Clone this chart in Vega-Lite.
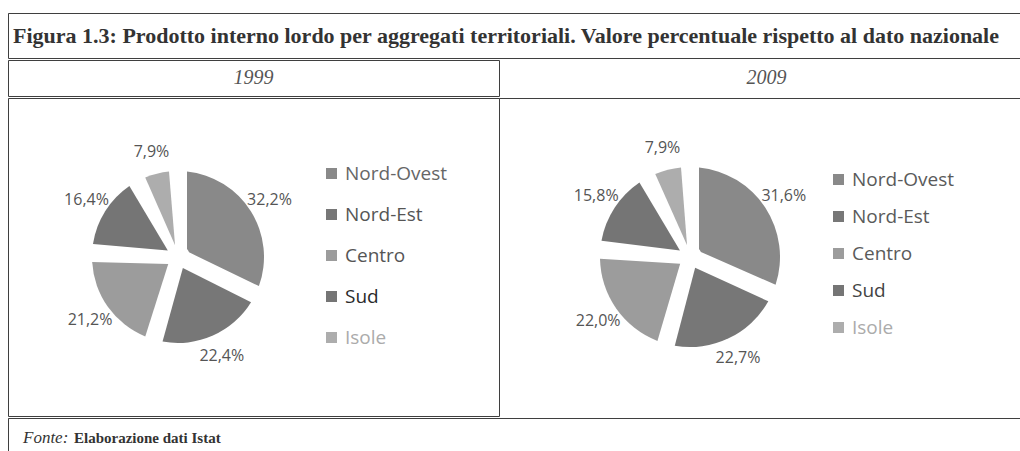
{
  "$schema": "https://vega.github.io/schema/vega-lite/v6.json",
  "padding": {"left": 7, "top": 12, "right": 0, "bottom": 0},
  "spacing": 0,
  "background": "white",
  "config": {
    "view": {"stroke": null},
    "locale": {"number": {"decimal": ",", "thousands": ".", "grouping": [3], "currency": ["", "%"]}}
  },
  "datasets": {
    "d1999": [
      {"regione": "Nord-Ovest", "quota": 32.2, "ordine": 1},
      {"regione": "Nord-Est", "quota": 22.4, "ordine": 2},
      {"regione": "Centro", "quota": 21.2, "ordine": 3},
      {"regione": "Sud", "quota": 16.4, "ordine": 4},
      {"regione": "Isole", "quota": 7.9, "ordine": 5}
    ],
    "d2009": [
      {"regione": "Nord-Ovest", "quota": 31.6, "ordine": 1},
      {"regione": "Nord-Est", "quota": 22.7, "ordine": 2},
      {"regione": "Centro", "quota": 22.0, "ordine": 3},
      {"regione": "Sud", "quota": 15.8, "ordine": 4},
      {"regione": "Isole", "quota": 7.9, "ordine": 5}
    ]
  },
  "vconcat": [
    {
      "width": 1012,
      "height": 45,
      "view": {"stroke": "#3f3f3f", "strokeWidth": 1, "strokeDash": [1012, 45, 3000]},
      "data": {"values": [{"testo": "Figura 1.3: Prodotto interno lordo per aggregati territoriali. Valore percentuale rispetto al dato nazionale"}]},
      "mark": {"type": "text", "align": "left", "baseline": "middle", "x": 5, "font": "Liberation Serif", "fontWeight": "bold", "fontSize": 22, "color": "#333333"},
      "encoding": {"text": {"field": "testo", "type": "nominal"}}
    },
    {
      "hconcat": [
        {
          "width": 491,
          "height": 36,
          "view": {"stroke": "#3f3f3f", "strokeWidth": 1},
          "data": {"values": [{"anno": "1999"}]},
          "mark": {"type": "text", "baseline": "middle", "font": "Liberation Serif", "fontStyle": "italic", "fontSize": 20, "color": "#555555"},
          "encoding": {"text": {"field": "anno", "type": "nominal"}}
        },
        {
          "width": 521,
          "height": 36,
          "view": {"stroke": null},
          "data": {"values": [{"anno": "2009"}]},
          "mark": {"type": "text", "baseline": "middle", "dx": 7, "font": "Liberation Serif", "fontStyle": "italic", "fontSize": 20, "color": "#555555"},
          "encoding": {"text": {"field": "anno", "type": "nominal"}}
        }
      ],
      "spacing": 0,
      "bounds": "flush"
    },
    {
      "hconcat": [
        {
          "width": 491,
          "height": 318,
          "view": {"stroke": "#3f3f3f", "strokeWidth": 1},
          "data": {"name": "d1999"},
          "encoding": {
            "theta": {"field": "quota", "type": "quantitative", "stack": true},
            "order": {"field": "ordine", "type": "quantitative"}
          },
          "layer": [
            {
              "mark": {"type": "arc", "x": 170, "y": 159, "outerRadius": 86, "innerRadius": 12, "padAngle": 0.208},
              "encoding": {
                "color": {
                  "field": "regione", "type": "nominal",
                  "scale": {"domain": ["Nord-Ovest", "Nord-Est", "Centro", "Sud", "Isole"], "range": ["#898989", "#777777", "#9c9c9c", "#757575", "#adadad"]},
                  "legend": {
                    "orient": "none", "legendX": 314, "legendY": 66, "title": null, "padding": 0,
                    "symbolType": "square", "symbolSize": 121, "symbolStrokeWidth": 0, "symbolOpacity": 1,
                    "labelFont": "Open Sans", "labelFontSize": 19, "labelColor": "#5a5a5a", "labelOffset": 4, "rowPadding": 21,
                    "encode": {"labels": {"update": {"fill": {"signal": "datum.value === 'Sud' ? '#2a2a2a' : datum.value === 'Isole' ? '#ababab' : datum.value === 'Nord-Ovest' ? '#666666' : '#555555'"}}}}
                  }
                }
              }
            },
            {
              "mark": {"type": "text", "x": 170, "y": 159, "radius": 108, "font": "Open Sans", "fontSize": 16, "color": "#555555"},
              "encoding": {"text": {"field": "quota", "type": "quantitative", "format": "$.1f"}}
            }
          ]
        },
        {
          "width": 521,
          "height": 318,
          "view": {"stroke": "#3f3f3f", "strokeWidth": 1, "strokeDash": [521, 3000]},
          "data": {"name": "d2009"},
          "encoding": {
            "theta": {"field": "quota", "type": "quantitative", "stack": true},
            "order": {"field": "ordine", "type": "quantitative"}
          },
          "layer": [
            {
              "mark": {"type": "arc", "x": 191, "y": 159, "outerRadius": 90, "innerRadius": 12, "padAngle": 0.1985},
              "encoding": {
                "color": {
                  "field": "regione", "type": "nominal",
                  "scale": {"domain": ["Nord-Ovest", "Nord-Est", "Centro", "Sud", "Isole"], "range": ["#898989", "#777777", "#9c9c9c", "#757575", "#adadad"]},
                  "legend": {
                    "orient": "none", "legendX": 330, "legendY": 72, "title": null, "padding": 0,
                    "symbolType": "square", "symbolSize": 121, "symbolStrokeWidth": 0, "symbolOpacity": 1,
                    "labelFont": "Open Sans", "labelFontSize": 19, "labelColor": "#5a5a5a", "labelOffset": 4, "rowPadding": 17,
                    "encode": {"labels": {"update": {"fill": {"signal": "datum.value === 'Sud' ? '#444444' : datum.value === 'Isole' ? '#ababab' : '#5a5a5a'"}}}}
                  }
                }
              }
            },
            {
              "mark": {"type": "text", "x": 191, "y": 159, "radius": 112, "font": "Open Sans", "fontSize": 16, "color": "#555555"},
              "encoding": {"text": {"field": "quota", "type": "quantitative", "format": "$.1f"}}
            }
          ]
        }
      ],
      "spacing": 0,
      "bounds": "flush",
      "resolve": {"scale": {"color": "independent", "theta": "independent"}}
    },
    {
      "width": 1012,
      "height": 34,
      "view": {"stroke": "#3f3f3f", "strokeWidth": 1, "strokeDash": [1012, 1046, 200]},
      "layer": [
        {
          "data": {"values": [{"t": "Fonte:"}]},
          "mark": {"type": "text", "align": "left", "baseline": "middle", "x": 15, "y": 20, "font": "Liberation Serif", "fontStyle": "italic", "fontSize": 17, "color": "#333333"},
          "encoding": {"text": {"field": "t", "type": "nominal"}}
        },
        {
          "data": {"values": [{"t": "Elaborazione dati Istat"}]},
          "mark": {"type": "text", "align": "left", "baseline": "middle", "x": 66, "y": 20, "font": "Liberation Serif", "fontWeight": "bold", "fontSize": 15, "color": "#333333"},
          "encoding": {"text": {"field": "t", "type": "nominal"}}
        }
      ]
    }
  ]
}
